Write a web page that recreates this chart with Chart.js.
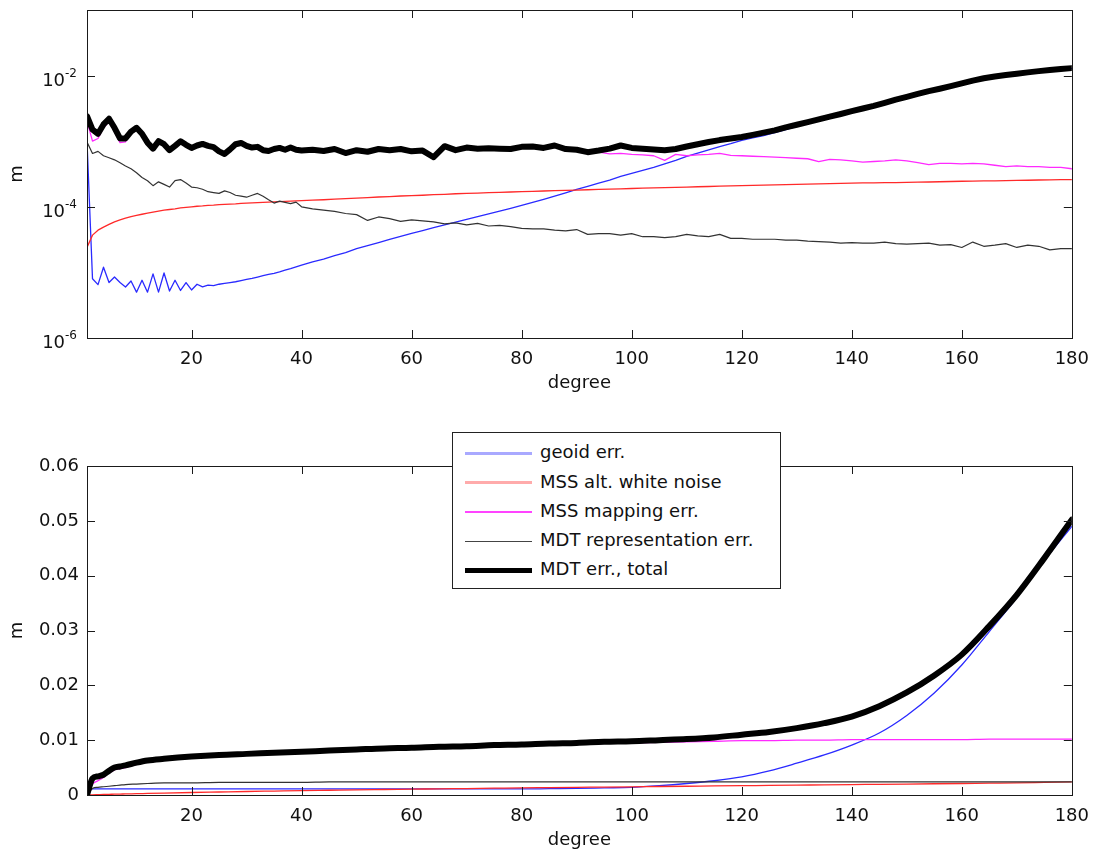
<!DOCTYPE html>
<html>
<head>
<meta charset="utf-8">
<title>MDT error budget</title>
<script src="https://cdn.jsdelivr.net/npm/chart.js@4.4.0/dist/chart.umd.min.js"></script>
<style>
  body { margin: 0; background: #fff; }
  #wrap { position: relative; width: 1100px; height: 852px; overflow: hidden; }
  .panel { position: absolute; left: 0; width: 1100px; }
  #topPanel { top: 0; height: 400px; }
  #bottomPanel { top: 426px; height: 426px; }
  #legend { position: absolute; left: 452px; top: 432px; width: 327px; height: 155px;
            border: 1px solid #222; background: #fff; font: 18px "DejaVu Sans"; color: #111; }
  #legend .row { position: absolute; left: 12px; height: 29px; line-height: 29px; white-space: nowrap; }
  #legend .smp { display: inline-block; width: 67px; vertical-align: middle; margin-right: 8px; }
</style>
</head>
<body>
<div id="wrap">
  <canvas id="topPanel" class="panel" width="1100" height="400"></canvas>
  <canvas id="bottomPanel" class="panel" width="1100" height="426"></canvas>
  <div id="legend"></div>
</div>
<script>
// series names, same order in both panels
var seriesNames = ['geoid err.', 'MSS alt. white noise', 'MSS mapping err.', 'MDT representation err.', 'MDT err., total'];

// axis ticks
var degreeTicks = [20, 40, 60, 80, 100, 120, 140, 160, 180];
var logTicks = [1e-6, 1e-4, 1e-2];
var linTicks = [0, 0.01, 0.02, 0.03, 0.04, 0.05, 0.06];

// ---- upper panel: error per degree (m) ----
var degTop = [
  1, 2, 3, 4, 5, 6, 7, 8, 9, 10,
  11, 12, 13, 14, 15, 16, 17, 18, 19, 20,
  21, 22, 23, 24, 25, 26, 27, 28, 29, 30,
  31, 32, 33, 34, 35, 36, 37, 38, 39, 40,
  42, 44, 46, 48, 50, 52, 54, 56, 58, 60,
  62, 64, 66, 68, 70, 72, 74, 76, 78, 80,
  82, 84, 86, 88, 90, 92, 94, 96, 98, 100,
  102, 104, 106, 108, 110, 112, 114, 116, 118, 120,
  122, 124, 126, 128, 130, 132, 134, 136, 138, 140,
  142, 144, 146, 148, 150, 152, 154, 156, 158, 160,
  162, 164, 166, 168, 170, 172, 174, 176, 178, 180
];

var geoidTop = [
  1.0e-3, 8.0e-6, 6.5e-6, 1.2e-5, 7.0e-6, 8.5e-6, 7.0e-6, 6.0e-6, 7.4e-6, 5.0e-6,
  7.6e-6, 5.0e-6, 9.5e-6, 5.0e-6, 9.8e-6, 5.2e-6, 7.6e-6, 5.3e-6, 7.0e-6, 5.4e-6,
  6.6e-6, 6.0e-6, 6.4e-6, 6.3e-6, 6.6e-6, 6.8e-6, 7.0e-6, 7.2e-6, 7.5e-6, 7.8e-6,
  8.1e-6, 8.5e-6, 8.9e-6, 9.3e-6, 9.7e-6, 1.02e-5, 1.08e-5, 1.14e-5, 1.21e-5, 1.29e-5,
  1.45e-5, 1.6e-5, 1.8e-5, 2.0e-5, 2.3e-5, 2.55e-5, 2.85e-5, 3.2e-5, 3.55e-5, 3.95e-5,
  4.35e-5, 4.8e-5, 5.3e-5, 5.85e-5, 6.45e-5, 7.1e-5, 7.8e-5, 8.6e-5, 9.5e-5, 1.05e-4,
  1.17e-4, 1.3e-4, 1.45e-4, 1.63e-4, 1.84e-4, 2.05e-4, 2.3e-4, 2.55e-4, 2.9e-4, 3.23e-4,
  3.6e-4, 4.0e-4, 4.5e-4, 5.1e-4, 5.86e-4, 6.6e-4, 7.4e-4, 8.3e-4, 9.2e-4, 1.03e-3,
  1.12e-3, 1.22e-3, 1.35e-3, 1.5e-3, 1.68e-3, 1.86e-3, 2.07e-3, 2.3e-3, 2.54e-3, 2.8e-3,
  3.08e-3, 3.4e-3, 3.8e-3, 4.25e-3, 4.7e-3, 5.2e-3, 5.75e-3, 6.25e-3, 6.85e-3, 7.55e-3,
  8.3e-3, 8.95e-3, 9.55e-3, 1.0e-2, 1.05e-2, 1.1e-2, 1.15e-2, 1.2e-2, 1.24e-2, 1.28e-2
];

var whiteTop = [
  2.4e-5, 3.7e-5, 4.4e-5, 4.9e-5, 5.4e-5, 5.9e-5, 6.3e-5, 6.7e-5, 7.1e-5, 7.4e-5,
  7.7e-5, 8.0e-5, 8.3e-5, 8.6e-5, 8.9e-5, 9.1e-5, 9.3e-5, 9.6e-5, 9.8e-5, 1.0e-4,
  1.02e-4, 1.03e-4, 1.05e-4, 1.06e-4, 1.08e-4, 1.09e-4, 1.1e-4, 1.11e-4, 1.13e-4, 1.14e-4,
  1.15e-4, 1.16e-4, 1.17e-4, 1.18e-4, 1.19e-4, 1.2e-4, 1.21e-4, 1.22e-4, 1.23e-4, 1.24e-4,
  1.26e-4, 1.28e-4, 1.31e-4, 1.33e-4, 1.36e-4, 1.38e-4, 1.41e-4, 1.43e-4, 1.46e-4, 1.48e-4,
  1.5e-4, 1.53e-4, 1.55e-4, 1.58e-4, 1.6e-4, 1.62e-4, 1.64e-4, 1.66e-4, 1.68e-4, 1.7e-4,
  1.72e-4, 1.74e-4, 1.76e-4, 1.78e-4, 1.8e-4, 1.82e-4, 1.84e-4, 1.86e-4, 1.88e-4, 1.9e-4,
  1.92e-4, 1.94e-4, 1.96e-4, 1.98e-4, 2.0e-4, 2.02e-4, 2.04e-4, 2.06e-4, 2.08e-4, 2.1e-4,
  2.12e-4, 2.14e-4, 2.16e-4, 2.18e-4, 2.2e-4, 2.22e-4, 2.24e-4, 2.26e-4, 2.28e-4, 2.3e-4,
  2.31e-4, 2.32e-4, 2.33e-4, 2.34e-4, 2.35e-4, 2.37e-4, 2.39e-4, 2.41e-4, 2.43e-4, 2.45e-4,
  2.46e-4, 2.48e-4, 2.49e-4, 2.51e-4, 2.52e-4, 2.54e-4, 2.56e-4, 2.57e-4, 2.59e-4, 2.6e-4
];

var mappingTop = [
  2.0e-3, 1.0e-3, 1.1e-3, 1.6e-3, 2.0e-3, 1.4e-3, 9.5e-4, 9.8e-4, 1.3e-3, 1.5e-3,
  1.2e-3, 8.8e-4, 7.2e-4, 9.5e-4, 8.5e-4, 6.9e-4, 8.1e-4, 9.6e-4, 8.4e-4, 7.6e-4,
  8.3e-4, 8.8e-4, 8.2e-4, 7.8e-4, 6.8e-4, 6.2e-4, 7.3e-4, 8.8e-4, 9.2e-4, 8.3e-4,
  7.8e-4, 8.0e-4, 7.1e-4, 6.9e-4, 7.4e-4, 7.7e-4, 7.2e-4, 7.8e-4, 7.2e-4, 7.0e-4,
  7.2e-4, 6.9e-4, 7.4e-4, 6.4e-4, 7.1e-4, 6.7e-4, 7.4e-4, 7.1e-4, 7.4e-4, 6.8e-4,
  7.0e-4, 5.5e-4, 8.2e-4, 7.1e-4, 7.8e-4, 7.5e-4, 7.6e-4, 7.5e-4, 7.4e-4, 8.0e-4,
  8.1e-4, 7.7e-4, 8.4e-4, 7.4e-4, 7.1e-4, 6.5e-4, 6.8e-4, 6.4e-4, 6.5e-4, 6.3e-4,
  6.2e-4, 6.0e-4, 5.1e-4, 6.3e-4, 6.0e-4, 6.2e-4, 6.3e-4, 6.5e-4, 6.1e-4, 6.0e-4,
  5.9e-4, 5.8e-4, 5.7e-4, 5.6e-4, 5.5e-4, 5.4e-4, 4.9e-4, 5.3e-4, 5.2e-4, 5.0e-4,
  4.8e-4, 4.9e-4, 5.0e-4, 5.2e-4, 5.0e-4, 4.7e-4, 4.4e-4, 4.6e-4, 4.6e-4, 4.5e-4,
  4.6e-4, 4.5e-4, 4.3e-4, 4.1e-4, 4.2e-4, 4.1e-4, 4.1e-4, 4.0e-4, 4.0e-4, 3.8e-4
];

var reprTop = [
  9.7e-4, 6.5e-4, 7.0e-4, 6.0e-4, 5.6e-4, 5.2e-4, 4.7e-4, 4.2e-4, 3.8e-4, 3.3e-4,
  2.8e-4, 2.5e-4, 2.1e-4, 2.4e-4, 2.2e-4, 2.0e-4, 2.5e-4, 2.6e-4, 2.3e-4, 2.0e-4,
  1.95e-4, 1.85e-4, 1.7e-4, 1.65e-4, 1.6e-4, 1.75e-4, 1.65e-4, 1.5e-4, 1.45e-4, 1.4e-4,
  1.5e-4, 1.6e-4, 1.45e-4, 1.28e-4, 1.14e-4, 1.22e-4, 1.17e-4, 1.12e-4, 1.18e-4, 1.0e-4,
  9.3e-5, 8.9e-5, 8.5e-5, 7.9e-5, 7.6e-5, 6.2e-5, 7.0e-5, 6.6e-5, 6.0e-5, 6.3e-5,
  6.1e-5, 5.9e-5, 5.5e-5, 5.7e-5, 5.3e-5, 5.6e-5, 5.1e-5, 5.2e-5, 5.0e-5, 4.7e-5,
  4.6e-5, 4.6e-5, 4.4e-5, 4.3e-5, 4.5e-5, 3.8e-5, 3.9e-5, 3.9e-5, 3.7e-5, 3.9e-5,
  3.5e-5, 3.5e-5, 3.4e-5, 3.5e-5, 3.8e-5, 3.6e-5, 3.5e-5, 3.8e-5, 3.3e-5, 3.3e-5,
  3.2e-5, 3.2e-5, 3.2e-5, 3.1e-5, 3.1e-5, 3.0e-5, 2.95e-5, 2.9e-5, 2.8e-5, 2.85e-5,
  2.8e-5, 2.8e-5, 2.9e-5, 2.75e-5, 2.7e-5, 2.75e-5, 2.8e-5, 2.6e-5, 2.65e-5, 2.4e-5,
  2.9e-5, 2.5e-5, 2.6e-5, 2.75e-5, 2.4e-5, 2.6e-5, 2.5e-5, 2.2e-5, 2.3e-5, 2.3e-5
];

var totalTop = [
  2.4e-3, 1.5e-3, 1.3e-3, 1.8e-3, 2.2e-3, 1.6e-3, 1.1e-3, 1.1e-3, 1.4e-3, 1.6e-3,
  1.3e-3, 9.5e-4, 7.7e-4, 1.0e-3, 9.0e-4, 7.3e-4, 8.5e-4, 1.0e-3, 8.8e-4, 7.9e-4,
  8.6e-4, 9.1e-4, 8.5e-4, 8.1e-4, 7.0e-4, 6.4e-4, 7.5e-4, 9.0e-4, 9.4e-4, 8.5e-4,
  8.0e-4, 8.2e-4, 7.3e-4, 7.1e-4, 7.6e-4, 7.9e-4, 7.4e-4, 8.0e-4, 7.4e-4, 7.2e-4,
  7.4e-4, 7.1e-4, 7.6e-4, 6.6e-4, 7.3e-4, 6.9e-4, 7.6e-4, 7.3e-4, 7.6e-4, 7.0e-4,
  7.2e-4, 5.7e-4, 8.4e-4, 7.3e-4, 8.0e-4, 7.7e-4, 7.8e-4, 7.7e-4, 7.6e-4, 8.2e-4,
  8.3e-4, 7.9e-4, 8.6e-4, 7.6e-4, 7.4e-4, 6.8e-4, 7.2e-4, 7.7e-4, 8.6e-4, 7.9e-4,
  7.7e-4, 7.5e-4, 7.3e-4, 7.6e-4, 8.3e-4, 9.0e-4, 9.7e-4, 1.04e-3, 1.1e-3, 1.16e-3,
  1.25e-3, 1.35e-3, 1.46e-3, 1.62e-3, 1.78e-3, 1.95e-3, 2.15e-3, 2.37e-3, 2.6e-3, 2.87e-3,
  3.15e-3, 3.45e-3, 3.85e-3, 4.3e-3, 4.75e-3, 5.25e-3, 5.8e-3, 6.3e-3, 6.9e-3, 7.6e-3,
  8.4e-3, 9.1e-3, 9.7e-3, 1.02e-2, 1.07e-2, 1.12e-2, 1.17e-2, 1.22e-2, 1.26e-2, 1.3e-2
];

// ---- lower panel: cumulative error up to degree (m) ----
var degBottom = [
  1, 2, 3, 4, 5, 6, 7, 8, 10, 12, 15,
  20, 25, 30, 35, 40, 45, 50, 55, 60, 65,
  70, 75, 80, 85, 90, 95, 100, 105, 110, 115,
  120, 125, 130, 135, 140, 145, 150, 155, 160, 165,
  170, 175, 180
];

var geoidBottom = [
  0, 0.0011, 0.0011, 0.0011, 0.0011, 0.0011, 0.0011, 0.0011, 0.0011, 0.0011, 0.0011,
  0.0011, 0.0011, 0.0011, 0.0011, 0.0011, 0.0011, 0.0011, 0.0011, 0.0011, 0.0011,
  0.0011, 0.0011, 0.0011, 0.00115, 0.0012, 0.0013, 0.0014, 0.0017, 0.0021, 0.0026,
  0.0033, 0.0044, 0.0058, 0.0073, 0.0091, 0.0113, 0.0145, 0.0186, 0.0237, 0.0298,
  0.036, 0.0428, 0.049
];

var whiteBottom = [
  0, 0.00004, 0.00007, 0.0001, 0.00012, 0.00015, 0.00017, 0.0002, 0.00024, 0.00029, 0.00036,
  0.00046, 0.00055, 0.00064, 0.00072, 0.0008, 0.00087, 0.00094, 0.001, 0.00106, 0.00112,
  0.00118, 0.00124, 0.0013, 0.00135, 0.0014, 0.00145, 0.0015, 0.00155, 0.0016, 0.00165,
  0.0017, 0.00175, 0.0018, 0.00185, 0.0019, 0.00195, 0.002, 0.00205, 0.0021, 0.00215,
  0.0022, 0.0023, 0.0024
];

var mappingBottom = [
  0, 0.0020, 0.0026, 0.0032, 0.0040, 0.0046, 0.0048, 0.0050, 0.0056, 0.0060, 0.0064,
  0.0068, 0.0071, 0.0073, 0.0075, 0.0077, 0.0079, 0.0081, 0.0083, 0.0084, 0.0086,
  0.0087, 0.0089, 0.0090, 0.0092, 0.0093, 0.0094, 0.0095, 0.0096, 0.0097, 0.0098,
  0.0099, 0.0099, 0.0100, 0.0100, 0.0101, 0.0101, 0.0101, 0.0101, 0.0101, 0.0102,
  0.0102, 0.0102, 0.0102
];

var reprBottom = [
  0, 0.0012, 0.0014, 0.0015, 0.0016, 0.0017, 0.0018, 0.0019, 0.0020, 0.0021, 0.0022,
  0.0022, 0.0023, 0.0023, 0.0023, 0.0023, 0.0024, 0.0024, 0.0024, 0.0024, 0.0024,
  0.0024, 0.0024, 0.0024, 0.0024, 0.0024, 0.0024, 0.0024, 0.0024, 0.0024, 0.0024,
  0.0024, 0.0024, 0.0024, 0.0024, 0.0024, 0.0024, 0.0024, 0.0024, 0.0024, 0.0024,
  0.0024, 0.0024, 0.0024
];

var totalBottom = [
  0, 0.0030, 0.0034, 0.0037, 0.0044, 0.0050, 0.0052, 0.0054, 0.0059, 0.0063, 0.0066,
  0.0070, 0.0073, 0.0075, 0.0077, 0.0079, 0.0081, 0.0083, 0.0085, 0.0086, 0.0088,
  0.0089, 0.0091, 0.0092, 0.0094, 0.0095, 0.0097, 0.0098, 0.0100, 0.0102, 0.0105,
  0.0110, 0.0115, 0.0122, 0.0131, 0.0143, 0.0162, 0.0187, 0.0218, 0.0256, 0.0308,
  0.0365, 0.0432, 0.0502
];

var FONT = '"DejaVu Sans"';
var INK = '#111';

Chart.defaults.font.family = FONT;
Chart.defaults.font.size = 18;
Chart.defaults.color = INK;

function pts(xs, ys) {
  return xs.map(function (x, i) { return { x: x, y: ys[i] }; });
}

// line styles: blue, red, magenta, dark grey, thick black
var lineColors = ['#2a2aff', '#ff2a2a', '#ff2aff', '#333333', '#000000'];
var lineWidths = [1.3, 1.3, 1.3, 1.2, 6];
var drawOrder = [4, 3, 2, 1, 0];

function makeDatasets(xs, cols, smooth) {
  return cols.map(function (ys, i) {
    var ds = {
      label: seriesNames[i],
      data: pts(xs, ys),
      borderColor: lineColors[i],
      borderWidth: lineWidths[i],
      borderJoinStyle: 'round',
      borderCapStyle: 'round',
      pointRadius: 0,
      tension: 0,
      fill: false,
      order: drawOrder[i]
    };
    if (smooth) ds.cubicInterpolationMode = 'monotone';
    return ds;
  });
}

// box round the plot area with inward tick marks on all four sides
var boxTicks = {
  id: 'boxTicks',
  afterDatasetsDraw: function (chart) {
    var ctx = chart.ctx, a = chart.chartArea, sx = chart.scales.x, sy = chart.scales.y;
    var len = 8;
    ctx.save();
    ctx.strokeStyle = '#1a1a1a';
    ctx.lineWidth = 1;
    ctx.beginPath();
    sx.ticks.forEach(function (t) {
      var px = Math.round(sx.getPixelForValue(t.value)) + 0.5;
      ctx.moveTo(px, a.bottom); ctx.lineTo(px, a.bottom - len);
      ctx.moveTo(px, a.top); ctx.lineTo(px, a.top + len);
    });
    sy.ticks.forEach(function (t) {
      var py = Math.round(sy.getPixelForValue(t.value)) + 0.5;
      ctx.moveTo(a.left, py); ctx.lineTo(a.left + len, py);
      ctx.moveTo(a.right, py); ctx.lineTo(a.right - len, py);
    });
    ctx.stroke();
    ctx.strokeRect(Math.round(a.left) + 0.5, Math.round(a.top) + 0.5,
                   Math.round(a.right - a.left), Math.round(a.bottom - a.top));
    ctx.restore();
  }
};

// 10^n labels for the log axis
var powerLabels = {
  id: 'powerLabels',
  afterDraw: function (chart) {
    var sy = chart.scales.y;
    if (sy.type !== 'logarithmic') return;
    var ctx = chart.ctx;
    ctx.save();
    ctx.fillStyle = INK;
    ctx.textAlign = 'left';
    ctx.textBaseline = 'alphabetic';
    sy.ticks.forEach(function (t) {
      var py = sy.getPixelForValue(t.value);
      var exp = String(Math.round(Math.log10(t.value)));
      var right = sy.right - 10;
      ctx.font = '12px ' + FONT;
      var we = ctx.measureText(exp).width;
      ctx.font = '18px ' + FONT;
      var wb = ctx.measureText('10').width;
      ctx.fillText('10', right - we - wb, py + 10);
      ctx.font = '12px ' + FONT;
      ctx.fillText(exp, right - we, py + 1);
    });
    ctx.restore();
  }
};

function xAxis() {
  return {
    type: 'linear', min: 1, max: 180,
    grid: { display: false, drawTicks: false },
    border: { display: false },
    afterBuildTicks: function (s) { s.ticks = degreeTicks.map(function (v) { return { value: v }; }); },
    afterFit: function (s) { s.height = 56; },
    ticks: { padding: 11, color: INK },
    title: { display: true, text: 'degree', color: INK, padding: 0 }
  };
}

function yTitle() {
  return { display: true, text: 'm', color: INK, padding: { top: 7, bottom: 0 } };
}

function makeChart(id, datasets, yScale, pad) {
  return new Chart(document.getElementById(id), {
    type: 'line',
    data: { datasets: datasets },
    options: {
      responsive: false,
      animation: false,
      devicePixelRatio: 1,
      layout: { padding: pad },
      plugins: { legend: { display: false }, tooltip: { enabled: false } },
      scales: { x: xAxis(), y: yScale }
    },
    plugins: [boxTicks, powerLabels]
  });
}

makeChart('topPanel',
  makeDatasets(degTop, [geoidTop, whiteTop, mappingTop, reprTop, totalTop], false),
  {
    type: 'logarithmic', min: 1e-6, max: 1e-1,
    grid: { display: false, drawTicks: false },
    border: { display: false },
    afterBuildTicks: function (s) { s.ticks = logTicks.map(function (v) { return { value: v }; }); },
    afterFit: function (s) { s.width = 87; },
    ticks: { display: false },
    title: yTitle()
  },
  { left: 0, right: 21, top: 10, bottom: 6 });

makeChart('bottomPanel',
  makeDatasets(degBottom, [geoidBottom, whiteBottom, mappingBottom, reprBottom, totalBottom], true),
  {
    type: 'linear', min: 0, max: 0.06,
    grid: { display: false, drawTicks: false },
    border: { display: false },
    afterBuildTicks: function (s) { s.ticks = linTicks.map(function (v) { return { value: v }; }); },
    afterFit: function (s) { s.width = 87; },
    ticks: {
      padding: 8, color: INK,
      callback: function (v) { return v === 0 ? '0' : v.toFixed(2); }
    },
    title: yTitle()
  },
  { left: 0, right: 21, top: 40, bottom: 1 });

// legend box inside the lower panel
var legendSamples = [
  { c: '#a9a9ff', w: 3 },
  { c: '#ffabab', w: 3 },
  { c: '#ff44ff', w: 2 },
  { c: '#444444', w: 1 },
  { c: '#000000', w: 5 }
];
var legend = document.getElementById('legend');
seriesNames.forEach(function (name, i) {
  var row = document.createElement('div');
  row.className = 'row';
  row.style.top = (4.2 + 29.3 * i) + 'px';
  var smp = document.createElement('span');
  smp.className = 'smp';
  smp.style.borderTop = legendSamples[i].w + 'px solid ' + legendSamples[i].c;
  row.appendChild(smp);
  row.appendChild(document.createTextNode(name));
  legend.appendChild(row);
});
</script>
</body>
</html>
